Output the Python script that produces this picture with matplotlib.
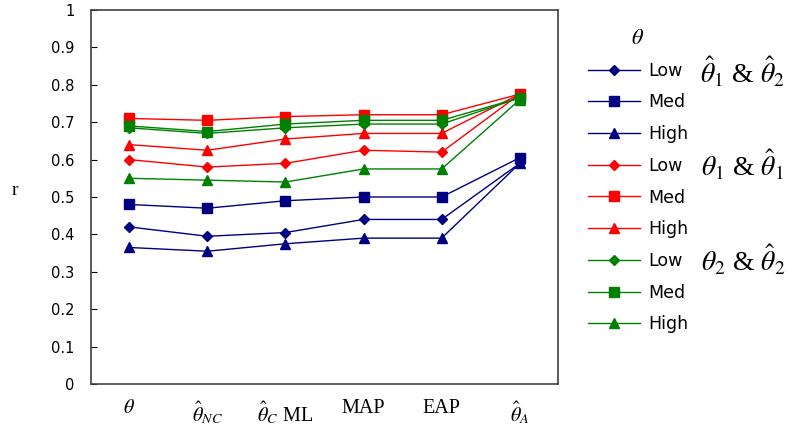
import matplotlib.pyplot as plt
import numpy as np

plt.rcParams['mathtext.fontset'] = 'stix'
plt.rcParams['font.family'] = ['DejaVu Sans']

categories = ['$\\theta$', '$\\hat{\\theta}_{NC}$', '$\\hat{\\theta}_C$ ML', 'MAP', 'EAP', '$\\hat{\\theta}_A$']
levels = ['Low', 'Med', 'High']

# theta-hat 1 & theta-hat 2
blue_low = [0.42, 0.395, 0.405, 0.44, 0.44, 0.59]
blue_med = [0.48, 0.47, 0.49, 0.50, 0.50, 0.605]
blue_high = [0.365, 0.355, 0.375, 0.39, 0.39, 0.59]
# theta 1 & theta-hat 1
red_low = [0.60, 0.58, 0.59, 0.625, 0.62, 0.775]
red_med = [0.71, 0.705, 0.715, 0.72, 0.72, 0.775]
red_high = [0.64, 0.625, 0.655, 0.67, 0.67, 0.775]
# theta 2 & theta-hat 2
green_low = [0.685, 0.67, 0.685, 0.695, 0.695, 0.765]
green_med = [0.69, 0.675, 0.695, 0.705, 0.705, 0.765]
green_high = [0.55, 0.545, 0.54, 0.575, 0.575, 0.76]

groups = [
    ('#000080', [blue_low, blue_med, blue_high]),
    ('#ff0000', [red_low, red_med, red_high]),
    ('#008000', [green_low, green_med, green_high]),
]
markers = ['D', 's', '^']
msizes = [5.5, 7, 7]

fig = plt.figure(figsize=(7.95, 4.40), dpi=100)
ax = fig.add_axes([91 / 795, 56 / 440, 467 / 795, 374 / 440])

x = np.arange(len(categories))
for color, series in groups:
    for vals, lvl, m, ms in zip(series, levels, markers, msizes):
        ax.plot(x, vals, color=color, marker=m, markersize=ms, linewidth=1.0,
                label=lvl)

ax.set_xlim(-0.49, 5.49)
ax.set_ylim(0, 1)
ax.set_yticks(np.arange(0, 1.01, 0.1))
ax.set_yticklabels(['0', '0.1', '0.2', '0.3', '0.4', '0.5', '0.6', '0.7', '0.8', '0.9', '1'])
ax.tick_params(axis='y', direction='in', length=4, pad=12, labelsize=10.5)
ax.set_xticks(x)
ax.set_xticklabels(categories, fontsize=14.5, family='Liberation Serif')
ax.tick_params(axis='x', length=0, pad=11)
for s in ax.spines.values():
    s.set_color('#404040')
    s.set_linewidth(1.2)

fig.text(15 / 795, 1 - 190 / 440, 'r', family='Liberation Serif', fontsize=14,
         ha='center', va='center')

leg = ax.legend(loc='upper left', bbox_to_anchor=(581 / 795, 1 - 21 / 440),
                bbox_transform=fig.transFigure, frameon=False, title='$\\theta$',
                fontsize=12.5, labelspacing=0.79, handlelength=3.0,
                handletextpad=0.45, borderaxespad=0)
leg.get_title().set_fontsize(16)

group_labels = ['$\\hat{\\theta}_1$ & $\\hat{\\theta}_2$',
                '$\\theta_1$ & $\\hat{\\theta}_1$',
                '$\\theta_2$ & $\\hat{\\theta}_2$']
for lbl, ypix in zip(group_labels, [72, 165, 260]):
    fig.text(743 / 795, 1 - ypix / 440, lbl, family='Liberation Serif',
             fontsize=20, ha='center', va='center')

fig.savefig('out.png', dpi=100)
